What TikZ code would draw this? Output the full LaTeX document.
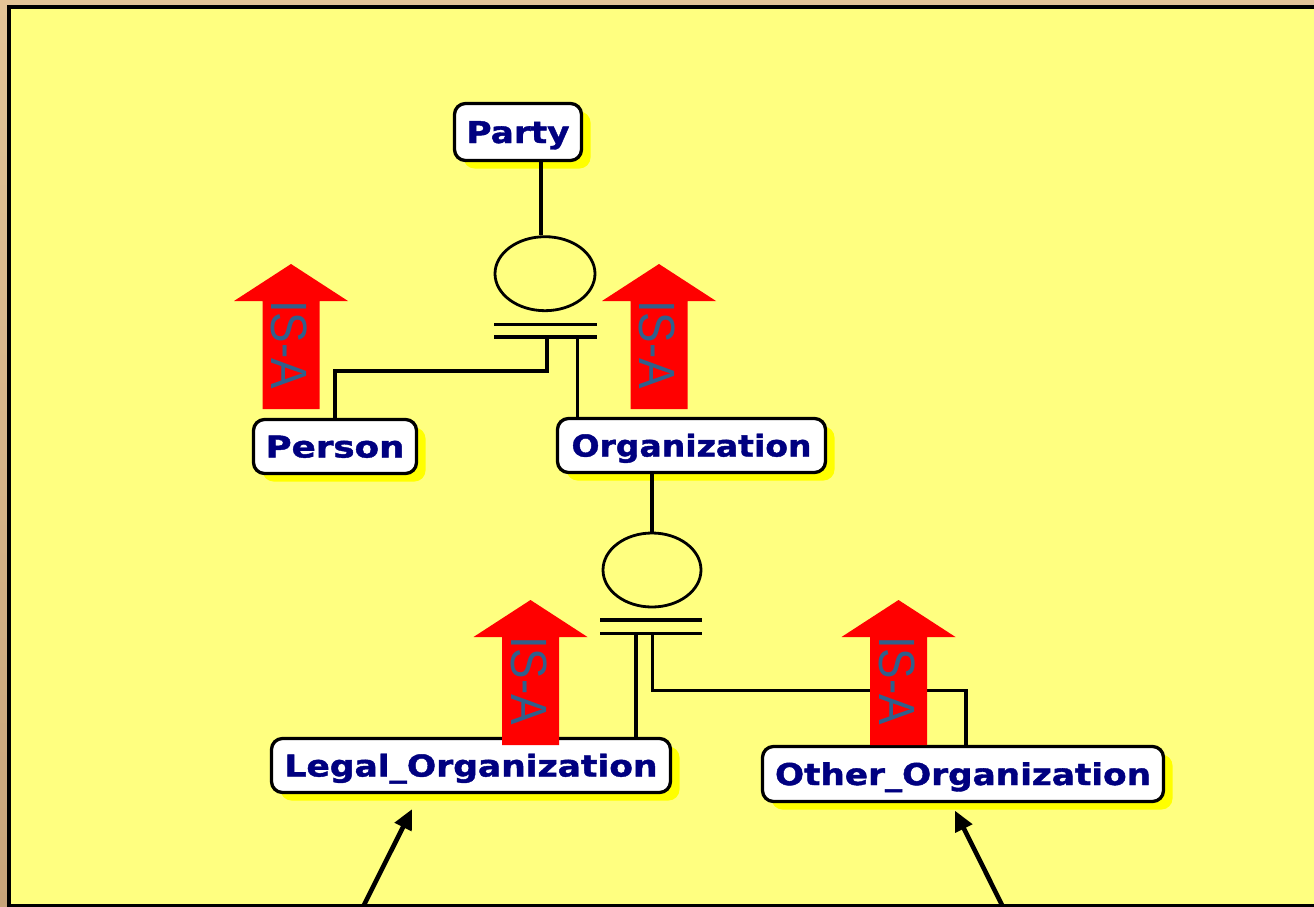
\documentclass[tikz,border=0pt]{standalone}
\usepackage{fontspec}
\usepackage{graphicx}
\usetikzlibrary{shapes.geometric,shadows,arrows.meta,calc}
\newfontfamily\lblfont{DejaVu Sans}[BoldFeatures={FakeBold=1.3}]
\newfontfamily\isafont{Liberation Sans}
\definecolor{bgy}{HTML}{FFFF80}
\definecolor{shy}{HTML}{FFFF00}
\definecolor{navy}{HTML}{000080}
\definecolor{isablue}{HTML}{30608C}
\definecolor{isared}{HTML}{FF0000}
\definecolor{tanA}{HTML}{E3C498}
\definecolor{tanB}{HTML}{C8A47A}
\newcommand\lbl[2]{\resizebox{#1pt}{\height}{\lblfont\bfseries\fontsize{30}{30}\selectfont #2}}
\tikzset{
  ent/.style={draw=black, line width=3.3pt, fill=white, rounded corners=11pt,
    inner sep=0pt, text height=22pt, text depth=0pt, text=navy,
    drop shadow={shadow xshift=9pt, shadow yshift=-8pt, fill=shy, opacity=1}},
  circ/.style={draw=black, ellipse, line width=2.8pt, inner sep=0pt},
  bar/.style={draw=black, line width=3.3pt},
  conn/.style={draw=black, line width=3.3pt},
  bigarrow/.style={draw=black, line width=4.6pt, -{Triangle[length=20pt,width=18pt]}},
  isaarrow/.pic={
    \fill[isared] (0,0) -- (57,37) -- (28.5,37) -- (28.5,145) -- (-28.5,145)
      -- (-28.5,37) -- (-57,37) -- cycle;
    \node[rotate=-90, text=isablue, inner sep=0pt] (-txt) at (-1.5,80.5)
      {\resizebox{89pt}{\height}{\isafont\fontsize{51}{51}\selectfont IS-A}};
  }
}
\begin{document}
\begin{tikzpicture}[x=1pt,y=-1pt]
\useasboundingbox (0,0) rectangle (1314,907);
% frame
\fill[tanA] (0,0) rectangle (1314,5);
\shade[top color=tanA, bottom color=tanB] (0,0) rectangle (7,907);
\fill[black] (7,5) rectangle (1314,907);
\fill[bgy] (11,9) rectangle (1314,904);

% entity nodes
\node[ent, minimum width=127pt, minimum height=57pt] (party) at (518,132) {\lbl{103}{Party}};
\node[ent, minimum width=163pt, minimum height=54pt] (person) at (335,446.5) {\lbl{139}{Person}};
\node[ent, minimum width=268pt, minimum height=54pt] (org) at (691.5,445.5) {\lbl{240}{Organization}};
\node[ent, minimum width=399pt, minimum height=54pt] (legal) at (471,765.5) {\lbl{373}{Legal\_Organization}};
\node[ent, minimum width=401pt, minimum height=55pt] (other) at (963,774) {\lbl{376}{Other\_Organization}};

% generalisation circles
\node[circ, minimum width=100pt, minimum height=74pt] (e1) at (545,273.7) {};
\node[circ, minimum width=98pt, minimum height=74pt] (e2) at (652,570) {};

% bars
\coordinate (b1a) at (494,324.5);
\coordinate (b1b) at (597,324.5);
\coordinate (b1c) at (494,337);
\coordinate (b1d) at (597,337);
\draw[bar] (b1a) -- (b1b);
\draw[bar] (b1c) -- (b1d);
\coordinate (b2a) at (600,620);
\coordinate (b2b) at (702,620);
\coordinate (b2c) at (600,633.5);
\coordinate (b2d) at (702,633.5);
\draw[bar] (b2a) -- (b2b);
\draw[bar] (b2c) -- (b2d);

% connectors
\draw[conn] (541,0 |- party.south) -- (541,0 |- e1.north);
\coordinate (j1) at (547,337);
\coordinate (j2) at (577.5,337);
\draw[conn] (j1) -- ++(0,34) -| (person.north);
\draw[conn] (j2) -- (j2 |- org.north);
\draw[conn] (e2.north |- org.south) -- (e2.north);
\coordinate (j3) at (636,633.5);
\coordinate (j4) at (652.5,633.5);
\draw[conn] (j3) -- (j3 |- legal.north);
\draw[conn] (j4) -- ++(0,57.2) -| ([xshift=3pt]other.north);

% IS-A arrows
\pic (isa1) at (291,264) {isaarrow};
\pic (isa2) at (659,264) {isaarrow};
\pic (isa3) at (530.5,600) {isaarrow};
\pic (isa4) at (898.5,600) {isaarrow};

% incoming arrows
\coordinate (s1) at (363,907);
\coordinate (s2) at (1003,907);
\draw[bigarrow] (s1) -- ([xshift=-59pt,yshift=-15pt]legal.south);
\draw[bigarrow] (s2) -- ([xshift=-8pt,yshift=-7.5pt]other.south);
\end{tikzpicture}
\end{document}
